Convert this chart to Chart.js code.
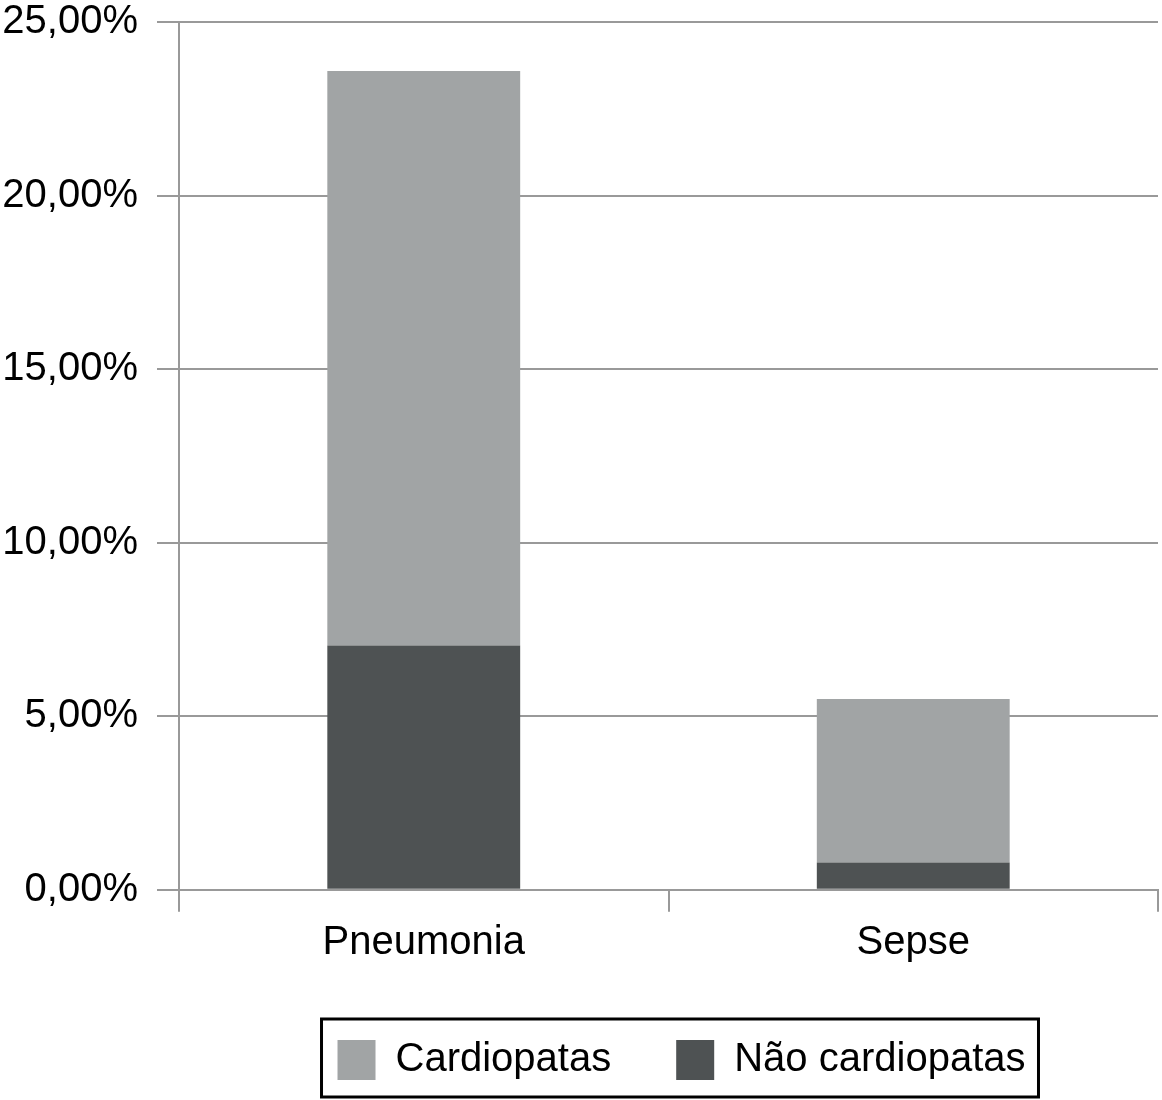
<!DOCTYPE html>
<html lang="pt">
<head>
    <meta charset="UTF-8">
    <title>Pneumonia e Sepse</title>
    <script src="https://cdn.jsdelivr.net/npm/chart.js"></script>
    <style>
        html, body { margin: 0; padding: 0; background: #fff; }
        #wrap { width: 1162px; height: 1100px; }
    </style>
</head>
<body>
    <div id="wrap"><canvas id="chart" width="1162" height="1100"></canvas></div>

    <script>
        // valores (%)
        const categories = ['Pneumonia', 'Sepse'];
        const naoCardiopatas = [7.04, 0.79];
        const cardiopatas = [16.55, 4.71];
        const yTicks = [0, 5, 10, 15, 20, 25];

        const gridGray = '#999999';
        const font = 'Liberation Sans, Arial, Helvetica, sans-serif';
        const legendShift = 13;

        // empurra a legenda um pouco para a direita
        const legendNudge = {
            id: 'legendNudge',
            afterLayout(chart) {
                const lg = chart.legend;
                if (!lg) return;
                lg.left += legendShift;
                lg.right += legendShift;
                (lg.legendHitBoxes || []).forEach(b => { b.left += legendShift; });
            }
        };

        // moldura preta em volta da legenda
        const legendBorder = {
            id: 'legendBorder',
            afterDraw(chart) {
                const boxes = chart.legend && chart.legend.legendHitBoxes;
                if (!boxes || !boxes.length) return;
                const left = Math.min(...boxes.map(b => b.left)) - 16;
                const right = Math.max(...boxes.map(b => b.left + b.width)) + 13;
                const top = boxes[0].top - 21;
                const bottom = boxes[0].top + boxes[0].height + 17;
                const ctx = chart.ctx;
                ctx.save();
                ctx.strokeStyle = '#000';
                ctx.lineWidth = 3;
                ctx.strokeRect(left, top, right - left, bottom - top);
                ctx.restore();
            }
        };

        const ctx = document.getElementById('chart').getContext('2d');
        new Chart(ctx, {
            type: 'bar',
            data: {
                labels: categories,
                datasets: [{
                    label: 'Não cardiopatas',
                    data: naoCardiopatas,
                    backgroundColor: '#4e5253',
                    barPercentage: 0.394,
                    categoryPercentage: 1
                }, {
                    label: 'Cardiopatas',
                    data: cardiopatas,
                    backgroundColor: '#a1a4a5',
                    barPercentage: 0.394,
                    categoryPercentage: 1
                }]
            },
            options: {
                responsive: false,
                devicePixelRatio: 1,
                animation: false,
                layout: { padding: { top: 0, right: 4, left: 0, bottom: 10 } },
                plugins: {
                    tooltip: { enabled: false },
                    legend: {
                        position: 'bottom',
                        reverse: true,
                        fullSize: false,
                        labels: {
                            boxWidth: 38,
                            boxHeight: 40,
                            padding: 65,
                            color: '#000',
                            font: { family: font, size: 40 }
                        }
                    }
                },
                scales: {
                    x: {
                        stacked: true,
                        grid: {
                            offset: true,
                            drawOnChartArea: false,
                            drawTicks: true,
                            tickLength: 22,
                            color: gridGray,
                            lineWidth: 2
                        },
                        border: { display: true, color: gridGray, width: 2 },
                        ticks: {
                            color: '#000',
                            padding: 6,
                            font: { family: font, size: 40, lineHeight: 1.28 }
                        }
                    },
                    y: {
                        stacked: true,
                        min: 0,
                        max: 25,
                        afterBuildTicks(axis) {
                            axis.ticks = yTicks.map(v => ({ value: v }));
                        },
                        afterFit(axis) {
                            axis.width = 179;
                            axis.paddingTop = 22;
                        },
                        grid: {
                            color: gridGray,
                            lineWidth: 2,
                            tickLength: 22
                        },
                        border: { display: true, color: gridGray, width: 2 },
                        ticks: {
                            color: '#000',
                            padding: 19,
                            font: { family: font, size: 40 },
                            callback: v => v.toFixed(2).replace('.', ',') + '%'
                        }
                    }
                }
            },
            plugins: [legendNudge, legendBorder]
        });
    </script>
</body>
</html>
